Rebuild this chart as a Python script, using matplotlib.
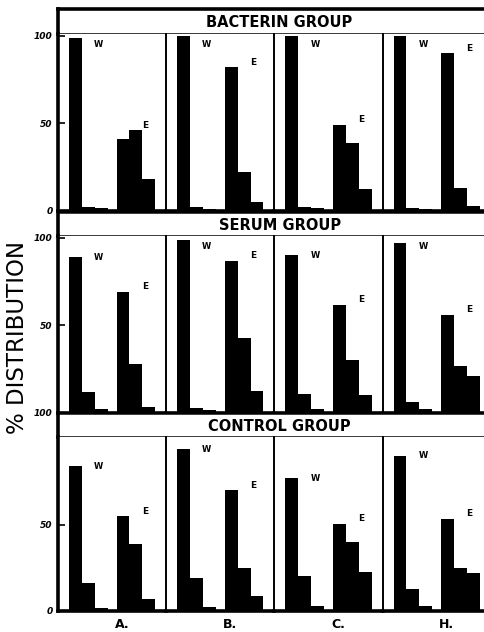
import matplotlib

matplotlib.use("Agg")
import matplotlib.pyplot as plt

# chart data
groups = ["BACTERIN GROUP", "SERUM GROUP", "CONTROL GROUP"]
subjects = ["A.", "B.", "C.", "H."]

bacterin_w = [[99, 2.3, 1.5], [100, 2, 1], [100, 2, 1.5], [100, 1.5, 1]]
bacterin_e = [[41, 46, 18], [82, 22, 5], [49, 39, 12.5], [90, 13, 3]]
serum_w = [[89, 12, 2.3], [99, 3, 1.5], [90, 11, 2], [97, 6.5, 2.3]]
serum_e = [[69, 28, 3.4], [87, 43, 12.5], [61.5, 30, 10], [56, 27, 21]]
control_w = [[84, 16, 2], [94, 19, 2.5], [77, 20.5, 3], [90, 12.5, 3]]
control_e = [[55, 39, 7], [70, 25, 8.5], [50.5, 40, 22.5], [53.5, 25, 22]]

ytick_values = [[0, 50, 100], [0, 50, 100], [0, 50]]
ytick_labels = [["0", "50", "100"], ["100", "50", "100"], ["0", "50"]]

w_data = [bacterin_w, serum_w, control_w]
e_data = [bacterin_e, serum_e, control_e]

W, H = 485, 632
fig = plt.figure(figsize=(W / 100, H / 100), dpi=100)


def fx(px):
    return px / W


def fy(px):
    return 1 - px / H


# pixel layout of each row: band top, plot top, plot bottom
rows_px = [(9, 34, 211), (212, 236, 413), (413, 437, 611)]
left_px = 58
panel_px = 108.2

w_pos = [0, 1, 2]
e_pos = [3.7, 4.7, 5.7]

for r, (band_top, plot_top, plot_bot) in enumerate(rows_px):
    # title band
    band = fig.add_axes([fx(left_px), fy(plot_top), fx(panel_px * 4 + 6), (plot_top - band_top) / H])
    band.set_xticks([])
    band.set_yticks([])
    for side, sp in band.spines.items():
        sp.set_linewidth(2.6 if (side == "left" or (side == "top" and r == 0)) else 1.8)
    band.text(0.505, 0.45, groups[r], transform=band.transAxes, ha="center", va="center",
              fontsize=10.5, fontweight="bold")

    for c in range(4):
        ax = fig.add_axes([fx(left_px + c * panel_px), fy(plot_bot), fx(panel_px), (plot_bot - plot_top) / H])
        ax.bar(w_pos, w_data[r][c], width=1.0, color="black", align="center")
        ax.bar(e_pos, e_data[r][c], width=1.0, color="black", align="center")
        ax.set_xlim(-1.35, 7.05)
        ax.set_ylim(0, 101)

        w_top = min(w_data[r][c][0], 95)
        ax.text(1.8, w_top, "W", ha="center", va="center", fontsize=6, fontweight="bold")
        ax.text(5.4, max(e_data[r][c]) + 3, "E", ha="center", va="center", fontsize=6.5, fontweight="bold")

        ax.spines["top"].set_visible(False)
        ax.spines["right"].set_visible(False)
        ax.spines["bottom"].set_linewidth(2.6)
        ax.spines["left"].set_linewidth(2.6 if c == 0 else 1.4)

        if r == 2:
            ax.set_xticks([3.6])
            ax.set_xticklabels([subjects[c]], fontsize=9, fontweight="bold")
            ax.tick_params(axis="x", length=0, pad=5)
        else:
            ax.set_xticks([])

        if c == 0:
            ax.set_yticks(ytick_values[r])
            ax.set_yticklabels(ytick_labels[r], fontsize=6.5, fontweight="bold", fontstyle="italic")
            ax.tick_params(axis="y", direction="in", length=5, width=1.2, pad=4)
        else:
            ax.set_yticks([])

fig.text(0.036, 0.466, "% DISTRIBUTION", rotation=90, ha="center", va="center", fontsize=16.5)

fig.savefig("out.png", dpi=100)
